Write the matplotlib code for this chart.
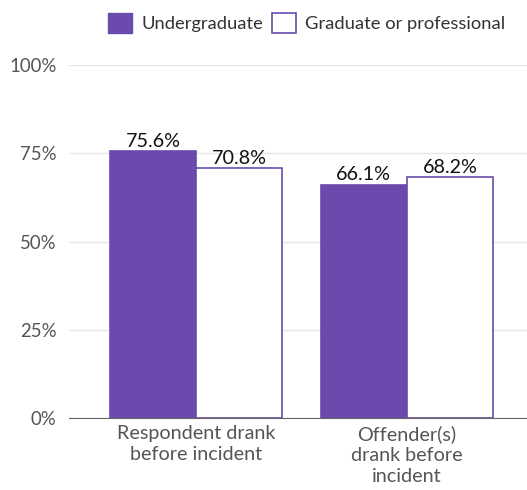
import matplotlib.pyplot as plt
import numpy as np
from matplotlib.patches import Patch

CATEGORIAS = ["Respondent drank\nbefore incident", "Offender(s)\ndrank before\nincident"]
SERIES = ["Undergraduate", "Graduate or professional"]
UNDERGRAD = [75.6, 66.1]
GRADUATE = [70.8, 68.2]
YTICKS = [0, 25, 50, 75, 100]

ROXO = "#6a4bad"
CINZA = "#555555"
plt.rcParams["font.family"] = ["Lato", "DejaVu Sans"]

fig = plt.figure(figsize=(5.27, 4.9), dpi=100)
ax = fig.add_axes([0.131, 0.147, 0.869, 0.72])

x = np.arange(len(CATEGORIAS))
w = 0.408
b1 = ax.bar(x - w / 2, UNDERGRAD, w, color=ROXO, edgecolor=ROXO, linewidth=1.2, zorder=3)
b2 = ax.bar(x + w / 2, GRADUATE, w, color="white", edgecolor=ROXO, linewidth=1.2, zorder=3)
for bars, vals in ((b1, UNDERGRAD), (b2, GRADUATE)):
    for r, v in zip(bars, vals):
        ax.annotate(f"{v:.1f}%", (r.get_x() + r.get_width() / 2, v), xytext=(0, 1),
                    textcoords="offset points", ha="center", va="bottom",
                    fontsize=14.2, color="#111111", zorder=5)

ax.set_xlim(-0.602, 1.57)
ax.set_ylim(0, 100)
ax.set_yticks(YTICKS)
ax.set_yticklabels([f"{t}%" for t in YTICKS], fontsize=13.4, color=CINZA)
ax.set_xticks(x)
ax.set_xticklabels(CATEGORIAS, fontsize=14.2, color=CINZA, linespacing=1.3, va="top")
ax.tick_params(axis="x", length=0, pad=5)
ax.tick_params(axis="y", length=0, pad=9)
ax.grid(axis="y", color="#e6e6e6", lw=1, zorder=0)
for s in ("top", "right", "left"):
    ax.spines[s].set_visible(False)
ax.spines["bottom"].set_color("#666666")
ax.spines["bottom"].set_zorder(4)

handles = [Patch(facecolor=ROXO, edgecolor=ROXO), Patch(facecolor="white", edgecolor=ROXO, linewidth=1.2)]
fig.legend(handles, SERIES, loc="center", bbox_to_anchor=(0.582, 0.953), ncol=2,
           frameon=False, fontsize=13.2, handlelength=1.3, handleheight=1.3,
           handletextpad=0.5, columnspacing=0.5, labelcolor="#333333")

fig.savefig("out.png", dpi=100, facecolor="white")
